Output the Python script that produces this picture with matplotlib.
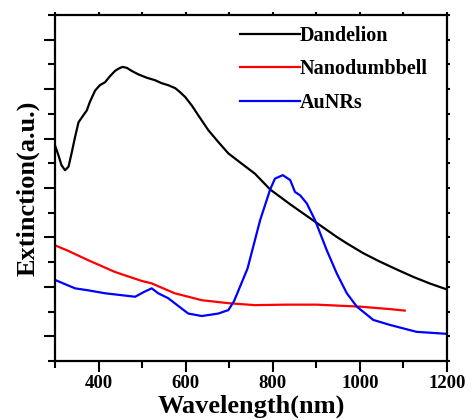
import matplotlib
matplotlib.use("Agg")
import matplotlib.pyplot as plt
from matplotlib.ticker import MultipleLocator, FixedLocator

plt.rcParams['font.family'] = ['Liberation Serif', 'DejaVu Serif']
plt.rcParams['font.weight'] = 'bold'

# Data
dand_x = [300, 308, 315, 323, 331, 338, 346, 354, 365, 373, 380, 392, 403, 415, 426, 438, 447, 455, 465,
          476, 491, 511, 530, 545, 560, 576, 587, 599, 614, 629, 652, 675, 698, 729, 759, 794, 840, 895,
          947, 970, 1008, 1046, 1085, 1123, 1160, 1199]
dand_y = [4.36, 4.16, 3.96, 3.86, 3.93, 4.20, 4.53, 4.83, 4.97, 5.07, 5.24, 5.47, 5.58, 5.64, 5.76, 5.87, 5.92, 5.95, 5.93,
          5.87, 5.80, 5.73, 5.68, 5.62, 5.58, 5.52, 5.44, 5.34, 5.17, 4.97, 4.67, 4.43, 4.20, 3.99, 3.79, 3.47, 3.17, 2.83,
          2.51, 2.38, 2.18, 2.01, 1.85, 1.70, 1.57, 1.45]

nano_x = [300, 330, 376, 438, 499, 522, 575, 637, 698, 759, 830, 901, 1000, 1069, 1103]
nano_y = [2.34, 2.23, 2.04, 1.80, 1.62, 1.57, 1.37, 1.23, 1.17, 1.13, 1.14, 1.14, 1.10, 1.05, 1.02]

aunr_x = [300, 346, 376, 415, 484, 505, 522, 537, 560, 591, 606, 637, 675, 698, 711, 742, 771, 794, 805, 823,
          840, 851, 863, 878, 897, 924, 947, 970, 993, 1031, 1069, 1130, 1199]
aunr_y = [1.64, 1.47, 1.43, 1.37, 1.30, 1.40, 1.47, 1.37, 1.27, 1.06, 0.96, 0.91, 0.96, 1.03, 1.21, 1.87, 2.85, 3.47, 3.69, 3.76,
          3.66, 3.42, 3.35, 3.19, 2.85, 2.24, 1.77, 1.37, 1.10, 0.83, 0.73, 0.59, 0.55]

labels = ['Dandelion', 'Nanodumbbell', 'AuNRs']
colors = ['black', 'red', 'blue']
xticks = [400, 600, 800, 1000, 1200]

fig = plt.figure(figsize=(4.73, 4.20), dpi=100)
ax = fig.add_axes([55/473, 59/420, 392/473, 346/420])

for xs, ys, lab, c in zip([dand_x, nano_x, aunr_x], [dand_y, nano_y, aunr_y], labels, colors):
    ax.plot(xs, ys, color=c, lw=1.6, label=lab, solid_joinstyle='round')

ax.set_xlim(300, 1200)
ax.set_ylim(0, 7)
ax.xaxis.set_major_locator(FixedLocator(xticks))
ax.xaxis.set_minor_locator(MultipleLocator(100))
ax.yaxis.set_major_locator(FixedLocator([0.5, 1.5, 2.5, 3.5, 4.5, 5.5, 6.5]))
ax.yaxis.set_minor_locator(MultipleLocator(1))
ax.set_yticklabels([])

for s in ax.spines.values():
    s.set_linewidth(1.6)

ax.tick_params(axis='both', which='major', direction='out', length=8, width=1.5,
               labelsize=13.5, pad=2)
ax.tick_params(axis='both', which='minor', direction='out', length=5, width=1.5)
ax.tick_params(axis='both', which='both', top=True, right=True)
for t in ax.xaxis.get_major_ticks() + ax.xaxis.get_minor_ticks():
    t.tick2line.set_markersize(2.5)
for t in ax.yaxis.get_major_ticks() + ax.yaxis.get_minor_ticks():
    t.tick2line.set_markersize(2.5)

for lbl in ax.get_xticklabels():
    lbl.set_fontweight('bold')

ax.set_xlabel('Wavelength(nm)', fontsize=19, fontweight='bold', labelpad=2)
ax.set_ylabel('Extinction(a.u.)', fontsize=19, fontweight='bold', labelpad=1)

leg = ax.legend(loc='upper left', bbox_to_anchor=(0.435, 1.01), frameon=False,
                prop={'family': 'Liberation Serif', 'weight': 'bold', 'size': 14.5},
                handlelength=3.0, handletextpad=0.0, labelspacing=0.68,
                borderaxespad=0.3)

fig.savefig('out.png', dpi=100)
